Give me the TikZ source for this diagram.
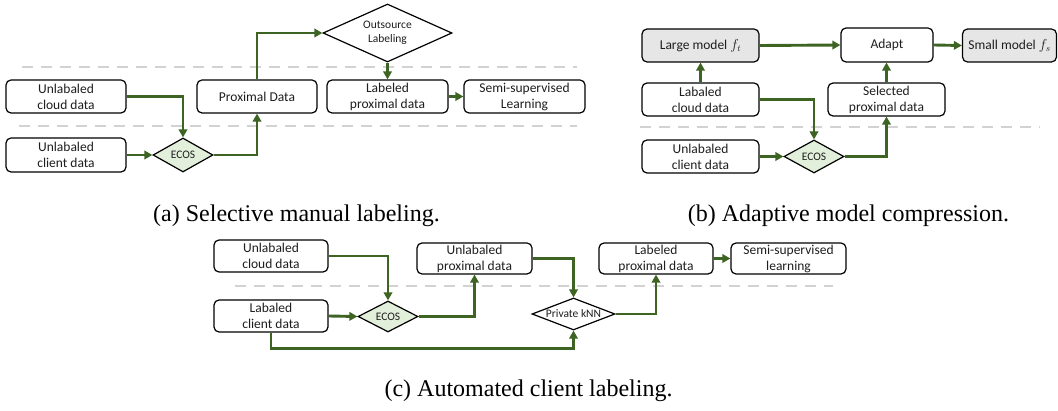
\documentclass[tikz,border=0pt]{standalone}
\usepackage{fontspec}
\setmainfont{Liberation Serif}
\newfontfamily\calib{Carlito}
\usetikzlibrary{arrows.meta,shapes.geometric}
\definecolor{arrgreen}{RGB}{62,100,36}
\definecolor{ecosfill}{RGB}{226,239,218}
\definecolor{modelfill}{RGB}{231,230,230}
\definecolor{sepgray}{RGB}{210,210,210}
\definecolor{txt}{RGB}{30,30,30}
\begin{document}
\begin{tikzpicture}[x=1pt,y=-1pt,
 box/.style={draw=black, fill=white, rounded corners=5pt, line width=1.2pt, inner sep=0pt, align=center, font=\calib\fontsize{13.5}{16}\selectfont, text=txt},
 dia/.style={draw=black, diamond, line width=1.2pt, inner sep=0pt, align=center, font=\calib\fontsize{11.5}{14}\selectfont, text=txt},
 arr/.style={draw=arrgreen, line width=2.9pt, -{Triangle[length=8pt,width=8.5pt]}},
 sepline/.style={draw=sepgray, line width=2pt, dash pattern=on 11pt off 8pt},
 captext/.style={font=\fontsize{24}{28}\selectfont, anchor=base}]
\useasboundingbox (0,0) rectangle (1058,411);

% separators
\draw[sepline] (22,67) -- (577,67);
\draw[sepline] (19,126) -- (577,126);
\draw[sepline] (640,127) -- (1040,127);
\draw[sepline] (235,286) -- (833,286);

% (a)
\node[box, minimum width=120pt, minimum height=33pt] (acloud) at (66,96.5) {Unlabaled\\cloud data};
\node[box, minimum width=120pt, minimum height=34pt] (aclient) at (66,155) {Unlabaled\\client data};
\node[dia, fill=ecosfill, minimum width=60pt, minimum height=34pt, aspect=1.8] (aecos) at (183,155) {ECOS};
\node[box, minimum width=120pt, minimum height=33pt] (aprox) at (257,96.5) {Proximal Data};
\node[dia, fill=white, minimum width=129pt, minimum height=58pt, aspect=2.2] (aout) at (387.5,33) {Outsource\\Labeling};
\node[box, minimum width=121pt, minimum height=33pt] (alab) at (387.5,96.5) {Labeled\\proximal data};
\node[box, minimum width=121pt, minimum height=33pt] (asemi) at (524.5,96.5) {Semi-supervised\\Learning};

\draw[arr] (acloud.east) -| (aecos.north);
\draw[arr] (aclient.east) -- (aecos.west);
\draw[arr] (aecos.east) -| (aprox.south);
\draw[arr] (aprox.north) |- (aout.west);
\draw[arr] (aout.south) -- (alab.north);
\draw[arr] (alab.east) -- (asemi.west);

% (b)
\node[box, fill=modelfill, minimum width=117pt, minimum height=33pt] (blarge) at (700.5,45.5) {Large model $f_t$};
\node[box, minimum width=92pt, minimum height=34pt] (badapt) at (887,45) {Adapt};
\node[box, fill=modelfill, minimum width=94pt, minimum height=33pt] (bsmall) at (1009.5,45.5) {Small model $f_s$};
\node[box, minimum width=117pt, minimum height=33pt] (blab) at (700.5,99.5) {Labaled\\cloud data};
\node[box, minimum width=117pt, minimum height=33pt] (bsel) at (886.5,99.5) {Selected\\proximal data};
\node[box, minimum width=117pt, minimum height=33pt] (bclient) at (700.5,156.5) {Unlabaled\\client data};
\node[dia, fill=ecosfill, minimum width=60pt, minimum height=33pt, aspect=1.8] (becos) at (814,156.5) {ECOS};

\draw[arr] (blab.north) -- (blarge.south);
\draw[arr] (blarge.east) -- (badapt.west);
\draw[arr] (badapt.east) -- (bsmall.west);
\draw[arr] (bsel.north) -- (bsel.north |- badapt.south);
\draw[arr] (blab.east) -| (becos.north);
\draw[arr] (bclient.east) -- (becos.west);
\draw[arr] (becos.east) -| (bsel.south);

% (c)
\node[box, minimum width=114pt, minimum height=32pt] (ccloud) at (271,256) {Unlabaled\\cloud data};
\node[box, minimum width=115pt, minimum height=31pt] (cunprox) at (474.5,258.5) {Unlabaled\\proximal data};
\node[box, minimum width=114pt, minimum height=32pt] (cclient) at (271,316) {Labaled\\client data};
\node[dia, fill=ecosfill, minimum width=60pt, minimum height=31pt, aspect=1.8] (cecos) at (388,316.5) {ECOS};
\node[dia, fill=white, minimum width=83pt, minimum height=32pt, aspect=2.6] (cknn) at (573.5,314) {Private kNN};
\node[box, minimum width=114pt, minimum height=31pt] (clabprox) at (656,258.5) {Labeled\\proximal data};
\node[box, minimum width=115pt, minimum height=31pt] (csemi) at (788.5,258.5) {Semi-supervised\\learning};

\draw[arr] (ccloud.east) -| (cecos.north);
\draw[arr] (cclient.east) -- (cecos.west);
\draw[arr] (cecos.east) -| (cunprox.south);
\draw[arr] (cunprox.east) -| (cknn.north);
\draw[arr] (cclient.south) -- ++(0,16) -| (cknn.south);
\draw[arr] (cknn.east) -| (clabprox.south);
\draw[arr] (clabprox.east) -- (csemi.west);

% captions
\node[captext] (capa) at (296.5,222) {(a) Selective manual labeling.};
\node[captext] (capb) at (848.5,222) {(b) Adaptive model compression.};
\node[captext] (capc) at (528.5,397) {(c) Automated client labeling.};
\end{tikzpicture}
\end{document}
